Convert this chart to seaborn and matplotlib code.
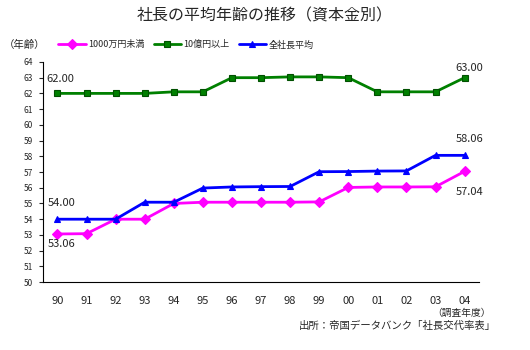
import matplotlib
matplotlib.use("Agg")
import matplotlib.pyplot as plt
import seaborn as sns
import pandas as pd

sns.set_style("white")
plt.rcParams["font.family"] = ["Noto Sans CJK JP", "DejaVu Sans"]

years = ["90", "91", "92", "93", "94", "95", "96", "97", "98", "99", "00", "01", "02", "03", "04"]
small = [53.06, 53.08, 54.0, 54.0, 55.0, 55.08, 55.08, 55.08, 55.08, 55.1, 56.02, 56.05, 56.05, 56.06, 57.04]
large = [62.0, 62.0, 62.0, 62.0, 62.1, 62.1, 63.0, 63.0, 63.05, 63.05, 63.0, 62.1, 62.1, 62.1, 63.0]
total = [54.0, 54.0, 54.0, 55.08, 55.08, 55.98, 56.05, 56.07, 56.08, 57.02, 57.03, 57.06, 57.07, 58.06, 58.06]
series = ["1000万円未満", "10億円以上", "全社長平均"]
colors = {"1000万円未満": "#ff00ff", "10億円以上": "#008000", "全社長平均": "#0000ff"}
marks = {"1000万円未満": "D", "10億円以上": "s", "全社長平均": "^"}

rows = []
for name, vals in zip(series, [small, large, total]):
    for i, v in enumerate(vals):
        rows.append({"idx": i, "age": v, "series": name})
df = pd.DataFrame(rows)

fig = plt.figure(figsize=(5.3, 3.5), dpi=100)
ax = fig.add_axes([0.081, 0.194, 0.823, 0.629])

sns.lineplot(data=df, x="idx", y="age", hue="series", style="series",
             palette=colors, markers=marks, dashes=False, linewidth=2,
             markersize=5, markeredgewidth=0.8, ax=ax, legend=True)
for line in ax.lines:
    c = line.get_color()
    line.set_markeredgecolor("#005000" if c == "#008000" else c)

ax.set_xlim(-0.5, 14.5)
ax.set_ylim(50, 64)
ax.set_yticks(range(50, 65))
ax.set_yticklabels([str(v) for v in range(50, 65)], fontsize=6)
ax.set_xticks(range(15))
ax.set_xticklabels(years, fontsize=8)
ax.set_xticks([i + 0.5 for i in range(14)], minor=True)
ax.tick_params(axis="x", which="major", length=0, pad=10)
ax.tick_params(axis="x", which="minor", direction="in", length=4, width=0.8)
ax.tick_params(axis="y", direction="out", length=3, width=0.8, pad=4, left=True)
ax.set_xlabel("")
ax.set_ylabel("")
for s in ["top", "right"]:
    ax.spines[s].set_visible(False)
for s in ["left", "bottom"]:
    ax.spines[s].set_color("black")
    ax.spines[s].set_linewidth(0.8)

# value labels at both ends (offsets in pixels)
def label(i, v, dx, dy):
    ax.annotate(f"{v:.2f}", (i, v), xytext=(dx, dy), textcoords="offset pixels",
                fontsize=8, ha="left", va="center")

label(0, large[0], -11, 14)
label(0, total[0], -10, 16)
label(0, small[0], -10, -10)
label(14, large[-1], -9, 10)
label(14, total[-1], -9, 16)
label(14, small[-1], -9, -21)

h, l = ax.get_legend_handles_labels()
ax.legend_.remove()
fig.legend(h, l, loc="center left", bbox_to_anchor=(0.095, 0.872), ncol=3, frameon=False,
           fontsize=6.5, handlelength=3, columnspacing=1.0, handletextpad=0.3)

fig.text(0.5, 0.955, "社長の平均年齢の推移（資本金別）", ha="center", va="center", fontsize=11.5)
fig.text(0.008, 0.872, "（年齢）", ha="left", va="center", fontsize=7.5)
fig.text(0.926, 0.105, "（調査年度）", ha="right", va="center", fontsize=7)
fig.text(0.935, 0.068, "出所：帝国データバンク「社長交代率表」", ha="right", va="center", fontsize=7.5)

fig.savefig("out.png", dpi=100)
